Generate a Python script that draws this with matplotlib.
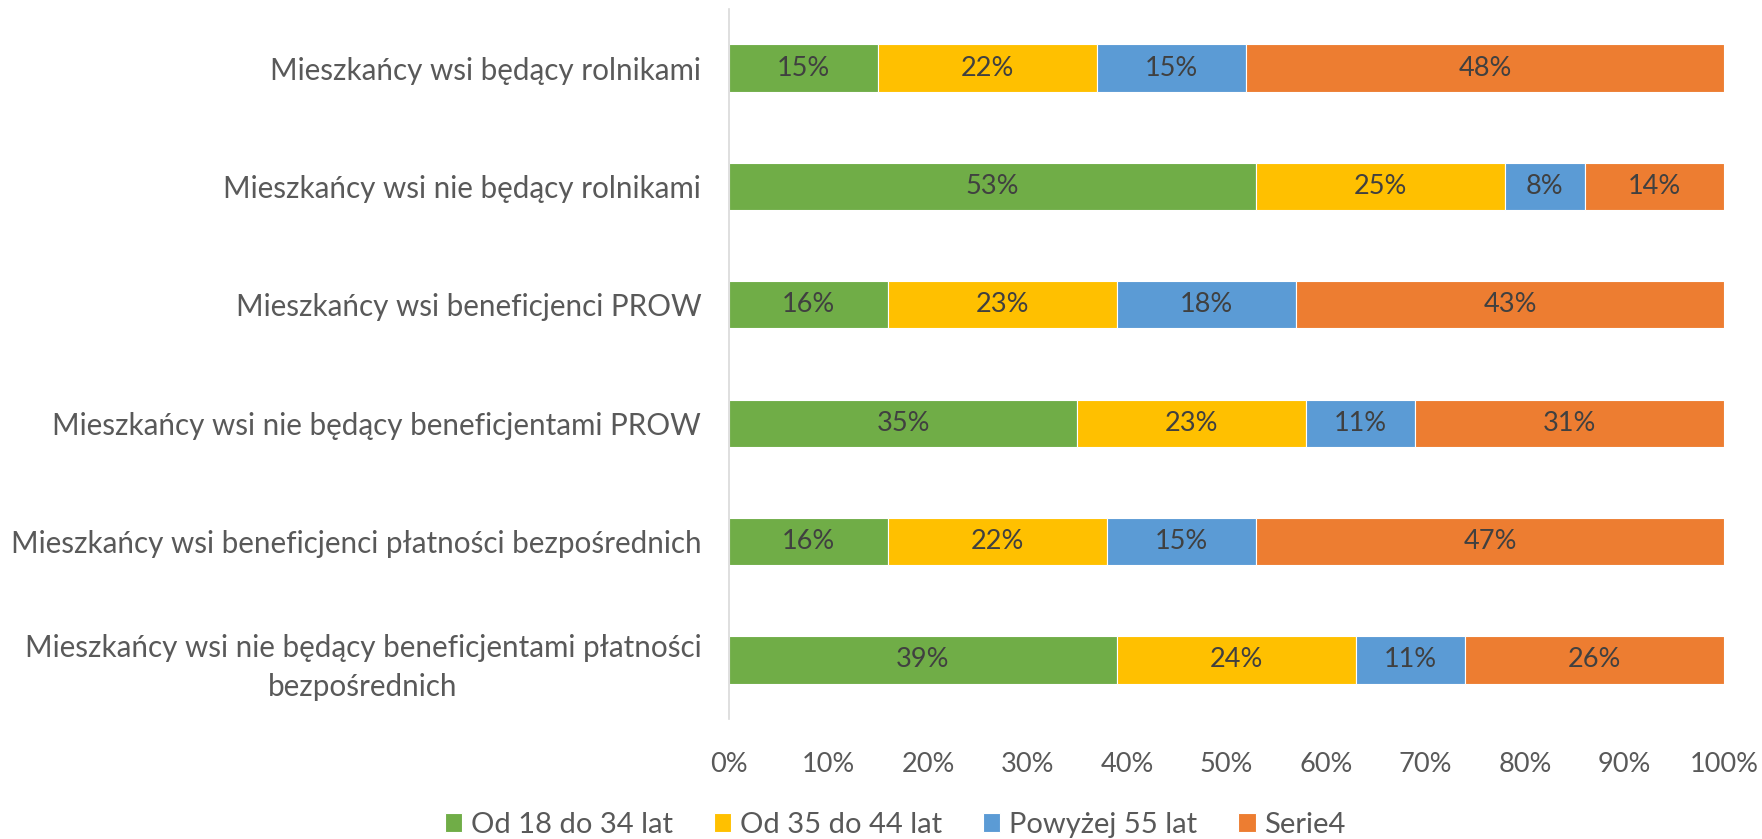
import matplotlib.pyplot as plt
import numpy as np

categories = [
    'Mieszkańcy wsi będący rolnikami',
    'Mieszkańcy wsi nie będący rolnikami',
    'Mieszkańcy wsi beneficjenci PROW',
    'Mieszkańcy wsi nie będący beneficjentami PROW',
    'Mieszkańcy wsi beneficjenci płatności bezpośrednich',
    'Mieszkańcy wsi nie będący beneficjentami płatności\nbezpośrednich',
]
series_names = ['Od 18 do 34 lat', 'Od 35 do 44 lat', 'Powyżej 55 lat', 'Serie4']
age_18_34 = [15, 53, 16, 35, 16, 39]
age_35_44 = [22, 25, 23, 23, 22, 24]
age_55 = [15, 8, 18, 11, 15, 11]
serie4 = [48, 14, 43, 31, 47, 26]
colors = ['#70AD47', '#FFC000', '#5B9BD5', '#ED7D31']
ticks = np.arange(0, 101, 10)

plt.rcParams['font.family'] = ['Lato', 'DejaVu Sans']

fig = plt.figure(figsize=(17.62, 8.39), dpi=100)
ax = fig.add_axes([0.4137, 0.143, 0.5647, 0.8463])

y = np.arange(len(categories))
left = np.zeros(len(categories))
handles = []
for vals, name, col in zip([age_18_34, age_35_44, age_55, serie4], series_names, colors):
    vals = np.array(vals, dtype=float)
    bars = ax.barh(y, vals, left=left, height=0.4, color=col, edgecolor='white',
                   linewidth=0.8, label=name)
    handles.append(bars)
    for yi, l, v in zip(y, left, vals):
        ax.text(l + v / 2, yi, f'{int(v)}%', ha='center', va='center',
                fontsize=19.5, color='#404040')
    left += vals

ax.set_ylim(len(categories) - 0.5, -0.5)
ax.set_xlim(0, 100)
ax.set_yticks(y)
ax.set_yticklabels(categories, fontsize=21.3, color='#595959',
                   multialignment='center', linespacing=1.45)
ax.set_xticks(ticks)
ax.set_xticklabels([f'{t}%' for t in ticks], fontsize=19.5, color='#595959')
ax.tick_params(axis='both', length=0)
ax.tick_params(axis='y', pad=20)
ax.tick_params(axis='x', pad=24)
for s in ['top', 'right', 'bottom']:
    ax.spines[s].set_visible(False)
ax.spines['left'].set_color('#D9D9D9')
ax.spines['left'].set_linewidth(1.2)

fig.legend(handles=handles, labels=series_names, loc='center', ncol=4,
           bbox_to_anchor=(0.508, 0.017), frameon=False, fontsize=21,
           handlelength=0.6, handleheight=0.6, handletextpad=0.3,
           columnspacing=1.4, labelcolor='#595959')

fig.savefig('out.png')
